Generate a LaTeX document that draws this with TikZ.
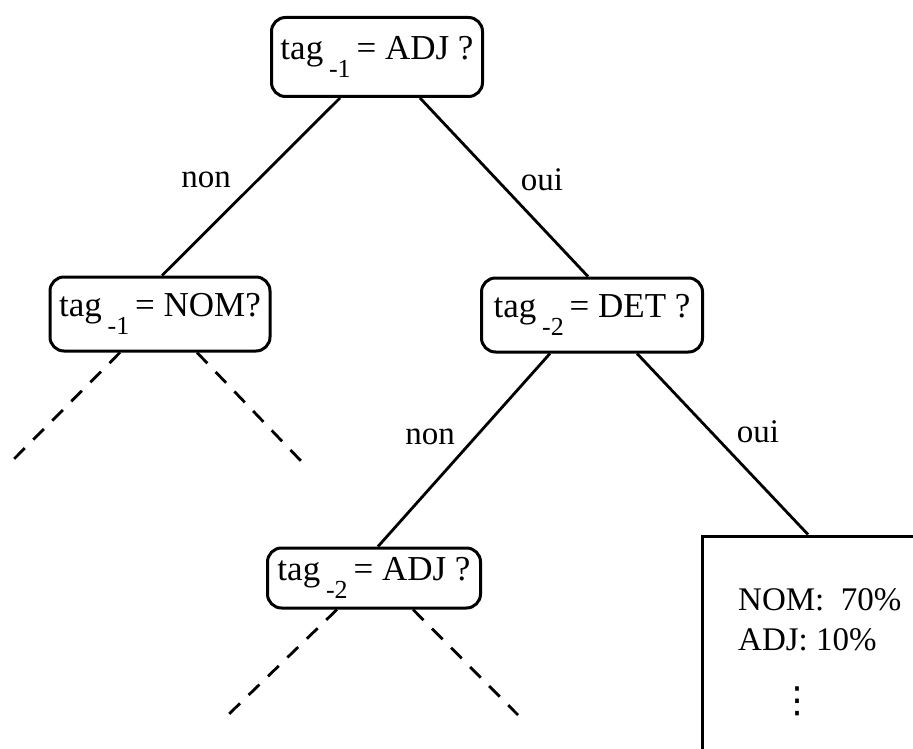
\documentclass[tikz,border=0pt]{standalone}
\usepackage{fontspec}
\setmainfont{Liberation Serif}
\newfontfamily\dejavu{DejaVu Sans}
\usetikzlibrary{calc}
\tikzset{
  qbox/.style={draw, line width=3pt, rounded corners=14pt, inner sep=0pt, font=\fontsize{35}{40}\selectfont},
  edge/.style={line width=2.8pt},
  dashedge/.style={line width=2.8pt, dash pattern=on 15pt off 12pt},
  lbl/.style={font=\fontsize{33}{38}\selectfont, inner sep=0pt},
  distbox/.style={draw, line width=3pt, inner sep=0pt},
  disttext/.style={font=\fontsize{33}{38}\selectfont, inner sep=0pt, anchor=west}
}
\newcommand{\tagsub}[1]{tag\,\raisebox{-0.5em}{\fontsize{26}{28}\selectfont #1}\,}
\begin{document}
\begin{tikzpicture}[x=1pt,y=-1pt]
\useasboundingbox (0,0) rectangle (913,749);
\clip (0,0) rectangle (913,749);
\fill[white] (0,0) rectangle (913,749);

\node[qbox, minimum width=211pt, minimum height=79pt] (top) at (377,57) {\tagsub{-1}= ADJ ?};
\node[qbox, minimum width=220pt, minimum height=74pt] (nom) at (160,314) {\tagsub{-1}= NOM?};
\node[qbox, minimum width=221pt, minimum height=74pt] (det) at (592,315) {\tagsub{-2}= DET ?};
\node[qbox, minimum width=213pt, minimum height=60pt] (adj) at (374,578) {\tagsub{-2}= ADJ ?};
\node[distbox, minimum width=240pt, minimum height=240pt] (dist) at (822,656) {};
\node[disttext] (nomp) at (738,600) {NOM:\ \ 70\%};
\node[disttext] (adjp) at (738,640) {ADJ: 10\%};
\node[font=\dejavu\fontsize{36}{40}\selectfont, inner sep=0pt] (dots) at (797,701) {⋮};

\draw[edge] ([xshift=-37pt]top.south) -- ([xshift=2pt]nom.north);
\draw[edge] ([xshift=43pt]top.south) -- ([xshift=-4pt]det.north);
\draw[edge] ([xshift=-42pt]det.south) -- ([xshift=4pt]adj.north);
\draw[edge] ([xshift=45pt]det.south) -- ([xshift=-14pt]dist.north);

\node[lbl] (l1) at (206,180) {non};
\node[lbl] (l2) at (542,180) {oui};
\node[lbl] (l3) at (430,437) {non};
\node[lbl] (l4) at (758,432) {oui};

\coordinate (n1) at (13,460);
\coordinate (n2) at (302,462);
\coordinate (a1) at (228,715);
\coordinate (a2) at (518,715);
\draw[dashedge] ([xshift=-40pt]nom.south) -- (n1);
\draw[dashedge] ([xshift=37pt]nom.south) -- (n2);
\draw[dashedge] ([xshift=-37pt]adj.south) -- (a1);
\draw[dashedge] ([xshift=39pt]adj.south) -- (a2);
\end{tikzpicture}
\end{document}
